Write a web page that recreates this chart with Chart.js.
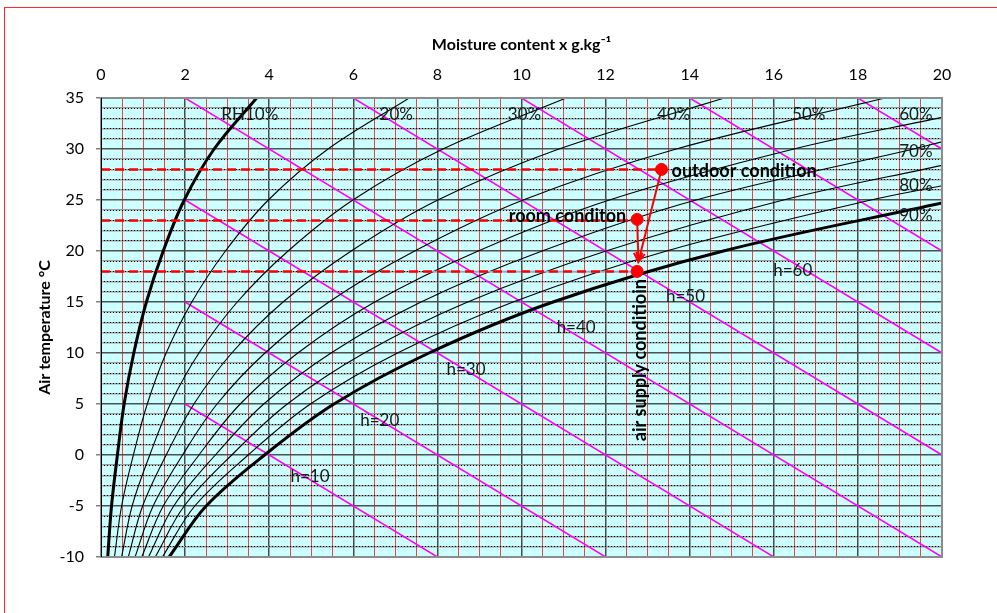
<!DOCTYPE html>
<html>
<head>
<meta charset="utf-8">
<script src="https://cdn.jsdelivr.net/npm/chart.js@4.4.1/dist/chart.umd.min.js"></script>
<style>
  html, body { margin: 0; padding: 0; background: #fff; overflow: hidden; }
  #wrap { position: relative; width: 997px; height: 613px; overflow: hidden; }
  #frame { position: absolute; left: 4px; top: 7px; width: 1100px; height: 700px; border: 1px solid #ff2a2a; box-sizing: border-box; }
  #c { position: absolute; left: 0; top: 0; }
</style>
</head>
<body>
<div id="wrap"><div id="frame"></div><canvas id="c" width="997" height="613"></canvas></div>
<script>
// Air temperature levels (°C) at which the humidity curves are tabulated
const temps = [-10, -5, 0, 5, 10, 15, 20, 25, 30, 35];

// Moisture content x (g/kg) of each relative-humidity curve at the temperatures above
const rh10  = [0.16, 0.25, 0.39, 0.55, 0.78, 1.08, 1.48, 1.98, 2.69, 3.70];
const rh20  = [0.32, 0.49, 0.77, 1.10, 1.55, 2.16, 2.96, 3.98, 5.40, 7.33];
const rh30  = [0.49, 0.74, 1.16, 1.65, 2.33, 3.24, 4.45, 5.99, 8.13, 11.06];
const rh40  = [0.65, 0.99, 1.55, 2.21, 3.11, 4.33, 5.95, 8.01, 10.89, 14.83];
const rh50  = [0.81, 1.24, 1.94, 2.76, 3.90, 5.42, 7.46, 10.04, 13.68, 18.65];
const rh60  = [0.97, 1.48, 2.33, 3.31, 4.68, 6.51, 8.97, 12.09, 16.48];
const rh70  = [1.13, 1.73, 2.72, 3.87, 5.47, 7.61, 10.49, 14.15, 19.32];
const rh80  = [1.29, 1.98, 3.11, 4.43, 6.26, 8.72, 12.01, 16.23];
const rh90  = [1.46, 2.23, 3.50, 4.98, 7.05, 9.80, 13.45, 18.31];
const rh100 = [1.62, 2.50, 3.89, 5.54, 7.80, 10.75, 14.80];

// Temperature where curves 60 % … 100 % leave the chart at x = 20 g/kg
const rhEdgeTemp = [33.1, 30.7, 28.4, 26.4, 24.7];

// Enthalpy lines h = 10 … 80 kJ/kg: start and end points (x g/kg, t °C)
const hValues = [10, 20, 30, 40, 50, 60, 70, 80];
const hStart = [[2, 5], [2, 15], [2, 25], [2, 35], [6, 35], [10, 35], [14, 35], [18, 35]];
const hEnd   = [[8, -10], [12, -10], [16, -10], [20, -10], [20, 0], [20, 10], [20, 20], [20, 30]];

// Air states
const outdoor = [13.33, 28];
const room    = [12.75, 23.1];
const supply  = [12.75, 18];
const arrowTip = [12.78, 18.95];

// Axis tick labels
const xTickLabels = [0, 2, 4, 6, 8, 10, 12, 14, 16, 18, 20];
const yTickLabels = [-10, -5, 0, 5, 10, 15, 20, 25, 30, 35];

const FONT = 'Lato, "Open Sans", sans-serif';
const near = (a, b) => Math.abs(a - b) < 1e-6;
const isXMajor = v => xTickLabels.some(t => near(t, v));
const isYMajor = v => yTickLabels.some(t => near(t, v));

function curvePoints(xs, edgeT) {
  const pts = xs.map((xv, i) => ({ x: xv, y: temps[i] }));
  if (edgeT !== undefined) pts.push({ x: 20, y: edgeT });
  return pts;
}

const datasets = [];

// state points
datasets.push({
  data: [outdoor, room, supply].map(p => ({ x: p[0], y: p[1] })),
  showLine: false, pointRadius: 6, pointBackgroundColor: '#ff0000', pointBorderColor: '#ff0000',
  order: 0
});
// process arrows
datasets.push({
  data: [{ x: outdoor[0], y: outdoor[1] }, { x: arrowTip[0], y: arrowTip[1] }],
  showLine: true, borderColor: '#ff0000', borderWidth: 2, pointRadius: 0, order: 1
});
datasets.push({
  data: [{ x: room[0], y: room[1] }, { x: arrowTip[0], y: arrowTip[1] }],
  showLine: true, borderColor: '#ff0000', borderWidth: 2, pointRadius: 0, order: 1
});
// dashed temperature guides
[outdoor, [room[0], 23], supply].forEach(p => {
  datasets.push({
    data: [{ x: 0, y: p[1] }, { x: p[0], y: p[1] }],
    showLine: true, borderColor: '#ff0000', borderWidth: 2.5, borderDash: [9, 5],
    pointRadius: 0, order: 2
  });
});
datasets.push({
  data: [{ x: 7.7, y: 18 }, { x: supply[0], y: 18 }],
  showLine: true, borderColor: '#86acd6', borderWidth: 1.5, pointRadius: 0, order: 3
});

// relative humidity curves
const rhSets = [rh10, rh20, rh30, rh40, rh50, rh60, rh70, rh80, rh90, rh100];
rhSets.forEach((xs, i) => {
  const edge = i >= 5 ? rhEdgeTemp[i - 5] : undefined;
  const thick = (i === 0 || i === 9);
  datasets.push({
    data: curvePoints(xs, edge),
    showLine: true, borderColor: '#000', borderWidth: thick ? 3 : 1.1,
    pointRadius: 0, tension: 0.35, order: 4
  });
});

// enthalpy lines
hValues.forEach((h, i) => {
  datasets.push({
    data: [{ x: hStart[i][0], y: hStart[i][1] }, { x: hEnd[i][0], y: hEnd[i][1] }],
    showLine: true, borderColor: '#ff00ff', borderWidth: 1.5, pointRadius: 0, order: 5
  });
});

// text placed in data coordinates
const rhLabels = [
  ['RH10%', 3.54, 33.4], ['20%', 7.02, 33.4], ['30%', 10.07, 33.4], ['40%', 13.62, 33.4],
  ['50%', 16.83, 33.4], ['60%', 19.38, 33.4], ['70%', 19.38, 29.8], ['80%', 19.38, 26.45], ['90%', 19.38, 23.45]
];
const hLabels = [
  ['h=10', 4.97, -2.1], ['h=20', 6.63, 3.4], ['h=30', 8.68, 8.4],
  ['h=40', 11.3, 12.45], ['h=50', 13.9, 15.5], ['h=60', 16.45, 18.1]
];

const chartBg = {
  id: 'chartBg',
  beforeDraw(chart) {
    const { ctx, chartArea: a } = chart;
    ctx.save();
    ctx.fillStyle = '#ccffff';
    ctx.fillRect(a.left, a.top, a.right - a.left, a.bottom - a.top);
    ctx.restore();
  }
};

const annotations = {
  id: 'annotations',
  afterDatasetsDraw(chart) {
    const { ctx, chartArea: a } = chart;
    const X = v => chart.scales.x.getPixelForValue(v);
    const Y = v => chart.scales.y.getPixelForValue(v);

    // arrow heads
    ctx.save();
    ctx.strokeStyle = '#ff0000';
    ctx.lineWidth = 2;
    [outdoor, room].forEach(p => {
      const x0 = X(p[0]), y0 = Y(p[1]), x1 = X(arrowTip[0]), y1 = Y(arrowTip[1]);
      const ang = Math.atan2(y1 - y0, x1 - x0);
      const L = 10, w = 0.45;
      ctx.beginPath();
      ctx.moveTo(x1 - L * Math.cos(ang - w), y1 - L * Math.sin(ang - w));
      ctx.lineTo(x1, y1);
      ctx.lineTo(x1 - L * Math.cos(ang + w), y1 - L * Math.sin(ang + w));
      ctx.stroke();
    });
    ctx.restore();

    ctx.save();
    ctx.fillStyle = '#1a1a1a';
    ctx.textBaseline = 'middle';
    ctx.font = '17px ' + FONT;
    ctx.textAlign = 'center';
    rhLabels.forEach(l => ctx.fillText(l[0], X(l[1]), Y(l[2])));
    hLabels.forEach(l => ctx.fillText(l[0], X(l[1]), Y(l[2])));

    ctx.fillStyle = '#000';
    ctx.font = 'bold 18px ' + FONT;
    ctx.textAlign = 'left';
    ctx.fillText('outdoor condition', X(13.57), Y(27.85));
    ctx.textAlign = 'right';
    ctx.fillText('room conditon', X(12.49), Y(23.4));
    ctx.translate(X(12.82), Y(9.3));
    ctx.rotate(-Math.PI / 2);
    ctx.textAlign = 'center';
    ctx.fillText('air supply conditioin', 0, 0);
    ctx.restore();

    // plot frame
    ctx.save();
    ctx.strokeStyle = '#8c8c8c';
    ctx.lineWidth = 2;
    ctx.strokeRect(a.left, a.top, a.right - a.left, a.bottom - a.top);
    ctx.strokeStyle = '#000';
    ctx.lineWidth = 1;
    ctx.beginPath();
    ctx.moveTo(a.left + 0.5, a.top);
    ctx.lineTo(a.left + 0.5, a.bottom);
    ctx.stroke();
    ctx.restore();
  }
};

new Chart(document.getElementById('c'), {
  type: 'scatter',
  data: { datasets },
  options: {
    responsive: false,
    animation: false,
    devicePixelRatio: 1,
    layout: { padding: { left: 0, top: 0, right: 55, bottom: 56 } },
    plugins: { legend: { display: false }, tooltip: { enabled: false } },
    elements: { point: { radius: 0 } },
    scales: {
      x: {
        type: 'linear', position: 'top', min: 0, max: 20,
        afterFit(s) { s.height = 98; },
        ticks: {
          stepSize: 0.5, autoSkip: false, maxRotation: 0, maxTicksLimit: 100, padding: 14,
          font: { family: FONT, size: 16 }, color: '#000',
          callback: v => (isXMajor(v) ? Math.round(v) : '')
        },
        grid: {
          drawTicks: false,
          color: c => (isXMajor(c.tick.value) ? '#4a4a4a' : 'rgba(255,0,0,0.75)'),
          lineWidth: c => (isXMajor(c.tick.value) ? 1.5 : 1)
        },
        border: { display: false },
        title: {
          display: true, text: 'Moisture content x g.kg\u207B\u00B9',
          font: { family: FONT, size: 16, weight: 'bold' }, color: '#000',
          padding: { top: 35, bottom: 0 }
        }
      },
      y: {
        type: 'linear', position: 'left', min: -10, max: 35,
        afterFit(s) { s.width = 101; },
        ticks: {
          stepSize: 1, autoSkip: false, maxTicksLimit: 100, padding: 12,
          font: { family: FONT, size: 16 }, color: '#000',
          callback: v => (isYMajor(v) ? Math.round(v) : '')
        },
        grid: {
          tickLength: 5,
          tickColor: c => (isYMajor(c.tick.value) ? '#808080' : 'rgba(0,0,0,0)'),
          color: c => (isYMajor(c.tick.value) ? '#505050' : '#9a9a9a'),
          lineWidth: 1.5
        },
        border: { display: false },
        title: {
          display: true, text: 'Air temperature \u00B0C',
          font: { family: FONT, size: 16, weight: 'bold' }, color: '#000',
          padding: { top: 35, bottom: 0 }
        }
      },
      y2: {
        type: 'linear', position: 'left', min: -10, max: 35,
        afterFit(s) { s.width = 0; },
        ticks: { display: false, stepSize: 1, autoSkip: false, maxTicksLimit: 100 },
        grid: {
          drawTicks: false,
          color: c => (isYMajor(c.tick.value) ? 'rgba(0,0,0,0)' : '#000'),
          lineWidth: 1
        },
        border: { display: false, dash: [1, 2] }
      }
    }
  },
  plugins: [chartBg, annotations]
});
</script>
</body>
</html>
